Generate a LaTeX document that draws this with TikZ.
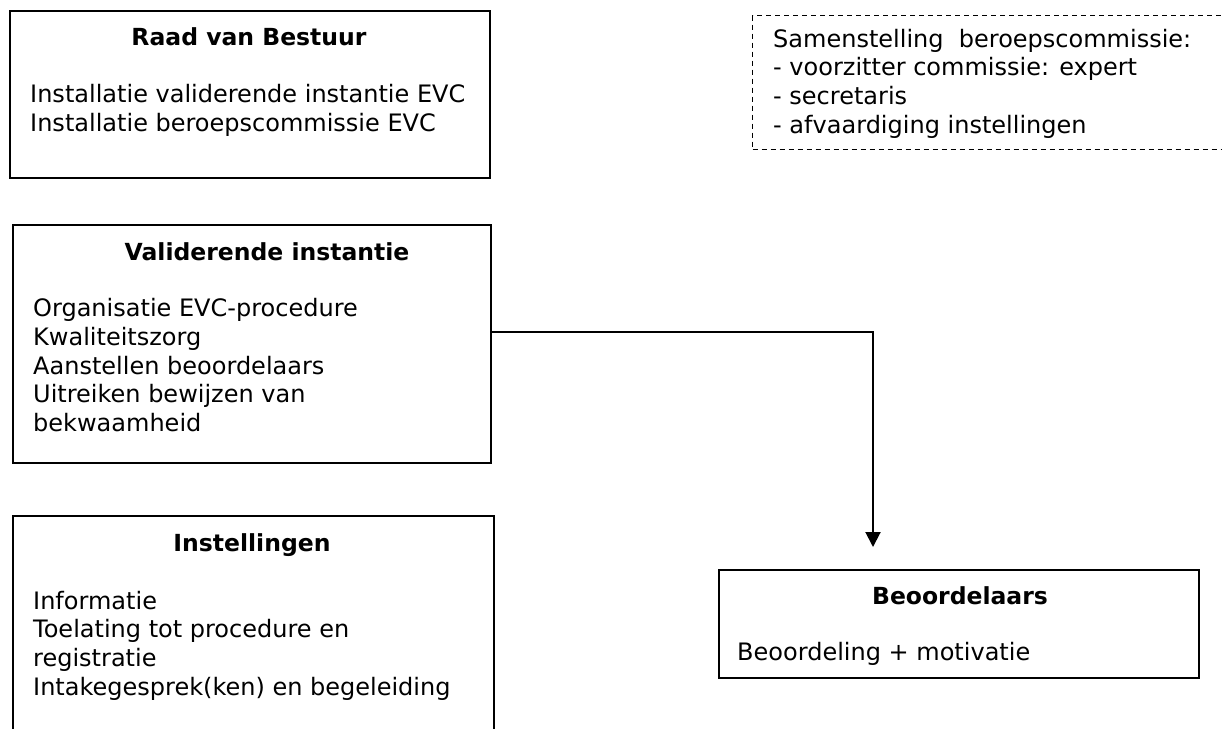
\documentclass[tikz,border=0pt]{standalone}
\usepackage{fontspec}
\setmainfont{DejaVu Sans}
\usetikzlibrary{arrows.meta}

\tikzset{
  kader/.style={draw, line width=1.6pt, anchor=north west, inner sep=0pt},
  stippelkader/.style={draw, dash pattern=on 5pt off 4pt, line width=1.3pt, anchor=north west, inner sep=0pt},
  titel/.style={anchor=base, inner sep=0pt, font=\bfseries\fontsize{23.5}{28.7}\selectfont},
  tekst/.style={anchor=base west, inner sep=0pt, align=left, font=\fontsize{24}{28.7}\selectfont},
  pijl/.style={line width=2pt, -{Triangle[width=15pt,length=15pt]}}
}

\begin{document}
\begin{tikzpicture}[x=1pt,y=-1pt]
\useasboundingbox (0,0) rectangle (1222,728);
\clip (0,0) rectangle (1222,728);

% Raad van Bestuur
\node[kader, minimum width=480pt, minimum height=167pt] (raad) at (9,10) {};
\node[titel] (raadtitel) at (249,45) {Raad van Bestuur};
\node[tekst] (raadtekst) at (30,131.4) {Installatie validerende instantie EVC\\Installatie beroepscommissie EVC};

% Samenstelling (rechts open)
\node[stippelkader, minimum width=500pt, minimum height=134pt] (samen) at (752,15) {};
\node[tekst] (samentekst) at (773,133.1) {Samenstelling\ \ beroepscommissie:\\- voorzitter commissie: expert\\- secretaris\\- afvaardiging instellingen};

% Validerende instantie
\node[kader, minimum width=478pt, minimum height=238pt] (valinst) at (12,224) {};
\node[titel] (valtitel) at (267,260) {Validerende instantie};
\node[tekst] (valtekst) at (33,431.5) {Organisatie EVC-procedure\\Kwaliteitszorg\\Aanstellen beoordelaars\\Uitreiken bewijzen van\\bekwaamheid};

% Instellingen (onderkant valt buiten beeld)
\node[kader, minimum width=481pt, minimum height=240pt] (inst) at (12,515) {};
\node[titel] (insttitel) at (252,551) {Instellingen};
\node[tekst] (insttekst) at (33,695.1) {Informatie\\Toelating tot procedure en\\registratie\\Intakegesprek(ken) en begeleiding};

% Beoordelaars
\node[kader, minimum width=480pt, minimum height=108pt] (beoord) at (718,569) {};
\node[titel] (beoordtitel) at (960,604) {Beoordelaars};
\node[tekst] (beoordtekst) at (737,660) {Beoordeling + motivatie};

% Pijl
\coordinate (pijlpunt) at (873,547);
\draw[pijl] ([yshift=12pt]valinst.east) -| (pijlpunt);

\end{tikzpicture}
\end{document}
